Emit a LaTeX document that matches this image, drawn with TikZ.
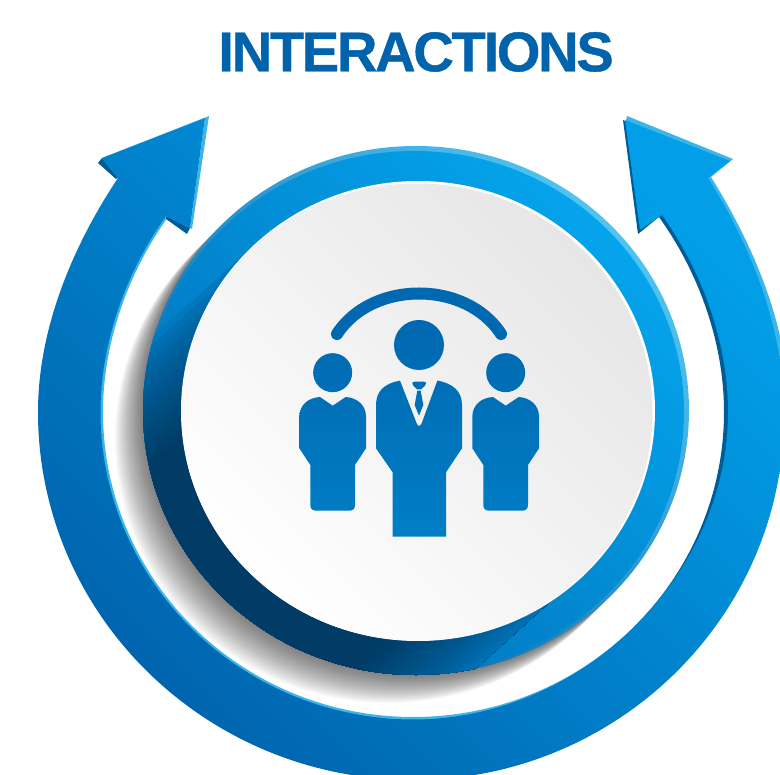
\documentclass[tikz,border=0pt]{standalone}
\usepackage{fontspec}
\setmainfont{Liberation Sans}
\newfontfamily\titlefont[FakeBold=.7,LetterSpace=-4]{Liberation Sans Bold}
\definecolor{titleblue}{HTML}{0063AB}
\definecolor{rimlight}{HTML}{3CB6E8}
\definecolor{rimdark}{HTML}{005C96}
\definecolor{wedgedark}{HTML}{003C66}
\definecolor{wedgeblue}{HTML}{0078C0}
\tikzset{
  mainblue/.style={top color={rgb,255:red,2;green,158;blue,232},bottom color={rgb,255:red,0;green,100;blue,174},shading angle=-45},
  ringblue/.style={top color={rgb,255:red,4;green,164;blue,236},bottom color={rgb,255:red,0;green,112;blue,184},shading angle=-45},
  ringrim/.style={top color={rgb,255:red,80;green,195;blue,240},bottom color={rgb,255:red,0;green,96;blue,168},shading angle=-45},
  discgrey/.style={top color={rgb,255:red,230;green,230;blue,230},bottom color=white,shading angle=-45},
  iconblue/.style={top color={rgb,255:red,0;green,104;blue,176},bottom color={rgb,255:red,0;green,126;blue,198}}
}
\begin{document}
\begin{tikzpicture}[x=1pt,y=-1pt]
\useasboundingbox (0,0) rectangle (780,775);
\clip (0,0) rectangle (780,775);
% soft cast shadow of the ring
\foreach \i in {1,...,28}{
  \fill[black,fill opacity=.022] (416-\i,410.5+\i) ellipse [x radius=273pt,y radius=264.5pt];
}
% rims of the big arrow
\fill[rimlight] (627,116) -- (733,159) -- (711,177) .. controls (747,235) and (789,320) .. (789,412) -- (770,500) -- (760,412) -- (700,180) -- (625,125) -- cycle;
\fill[rimdark] (623,120) -- (638,234) -- (659,217) .. controls (697,270) and (724,340) .. (724,412) .. controls (724,492.9) and (691.3,570.5) .. (633.1,627.7) -- (650,650) -- (740,540) -- (750,412) -- (700,200) -- (650,135) -- cycle;
\fill[rimlight] (168,217) .. controls (130,270) and (103,340) .. (103,412) .. controls (103,580.5) and (242,717) .. (413.5,717) .. controls (495.8,717) and (574.9,684.9) .. (633.1,627.7) -- (650,670) -- (413.5,745) .. controls (230,745) and (70,590) .. (70,412) -- (115,215) -- cycle;
\fill[rimlight] (102,158) -- (209,116) -- (192,229) -- (190,228) -- (205,118) -- cycle;
\fill[rimdark] (102,158) -- (118,178) -- (116,179) -- (98,163) -- cycle;
\fill[rimdark] (166,216) -- (190,228) -- (187,234) -- (166,219) -- cycle;
% big arrow
\shade[mainblue] (118,178) .. controls (80,235) and (38,320) .. (38,412)
  .. controls (38,615.2) and (206.1,780) .. (413.5,780)
  .. controls (618,780) and (786,615) .. (784,412)
  .. controls (784,320) and (744,235) .. (708,178)
  -- (730,161) -- (625,120) -- (640,230) -- (662,215)
  .. controls (701,270) and (728,340) .. (728,412)
  .. controls (728,495) and (691.3,570.5) .. (633.1,627.7)
  .. controls (574.9,684.9) and (495.8,719.5) .. (413.5,719.5)
  .. controls (242,719.5) and (100.5,582) .. (100.5,412)
  .. controls (100.5,340) and (127.5,270) .. (166,216)
  -- (190,228) -- (205,118) -- (102,158) -- cycle;
% ring
\shade[ringrim] (416,410.5) ellipse [x radius=273pt,y radius=264.5pt];
\shade[ringblue] (414.5,412) ellipse [x radius=269.5pt,y radius=261pt];
% dark wedge of the disc's shadow on the ring
\begin{scope}
  \clip (416,410.5) ellipse [x radius=273pt,y radius=264.5pt];
  \foreach \i in {0,...,80}{
    \pgfmathsetmacro\tt{\i/80}
    \pgfmathsetmacro\mm{\tt<.2 ? 100*(\tt/.2)^.7 : (\tt>.82 ? 100*((1-\tt)/.18)^.7 : 100)}
    \fill[wedgedark!\mm!wedgeblue]
      ({160+323*\tt+90},{330+332*\tt-81}) -- ({160+323*\tt-250},{330+332*\tt+225})
      -- (233,887) -- (573,581) -- cycle;
  }
\end{scope}
% disc
\fill[white] (418,411) ellipse [x radius=237pt,y radius=230pt];
\shade[discgrey] (417,412) ellipse [x radius=235.5pt,y radius=228.5pt];
% icon
\draw[draw={rgb,255:red,0;green,104;blue,176},line width=12pt,line cap=round]
  (337,334) .. controls (372,280) and (466,280) .. (501,334);
\begin{scope}[shift={(280,270)},x=.33333pt,y=-.33333pt]
\shade[iconblue]
  (417,225) circle [radius=25pt]
  (158,308) circle [radius=19.5pt]
  (677,308) circle [radius=19.5pt]
  % centre figure
  (360,332) -- (410,460) .. controls (414,470) and (420,470) .. (425,460) -- (472,332)
  .. controls (520,340) and (546,365) .. (546,405) -- (546,535) -- (498,607) -- (498,800) -- (338,800) -- (338,607) -- (288,535) -- (288,405)
  .. controls (288,365) and (312,340) .. (360,332) -- cycle
  % tie
  (404,335) -- (431,335) .. controls (440,335) and (440,343) .. (435,347) -- (423,358) -- (411,358) -- (400,347) .. controls (395,343) and (395,335) .. (404,335) -- cycle
  (412,362) -- (422,362) -- (430,405) -- (417,437) -- (404,405) -- cycle
  % left figure
  (158,407) -- (120,381) .. controls (85,383) and (58,405) .. (58,440) -- (58,535) -- (91,585) -- (91,705)
  .. controls (91,716) and (97,722) .. (108,722) -- (208,722) .. controls (219,722) and (225,716) .. (225,705)
  -- (225,585) -- (258,535) -- (258,440) .. controls (258,405) and (231,383) .. (197,381) -- cycle
  % right figure
  (677,407) -- (639,381) .. controls (604,383) and (577,405) .. (577,440) -- (577,535) -- (610,585) -- (610,705)
  .. controls (610,716) and (616,722) .. (627,722) -- (727,722) .. controls (738,722) and (744,716) .. (744,705)
  -- (744,585) -- (777,535) -- (777,440) .. controls (777,405) and (750,383) .. (716,381) -- cycle;
\end{scope}
% title
\node[font=\fontsize{56}{56}\titlefont,text=titleblue,inner sep=0pt] (title) at (416,52) {INTERACTIONS};
\end{tikzpicture}
\end{document}
